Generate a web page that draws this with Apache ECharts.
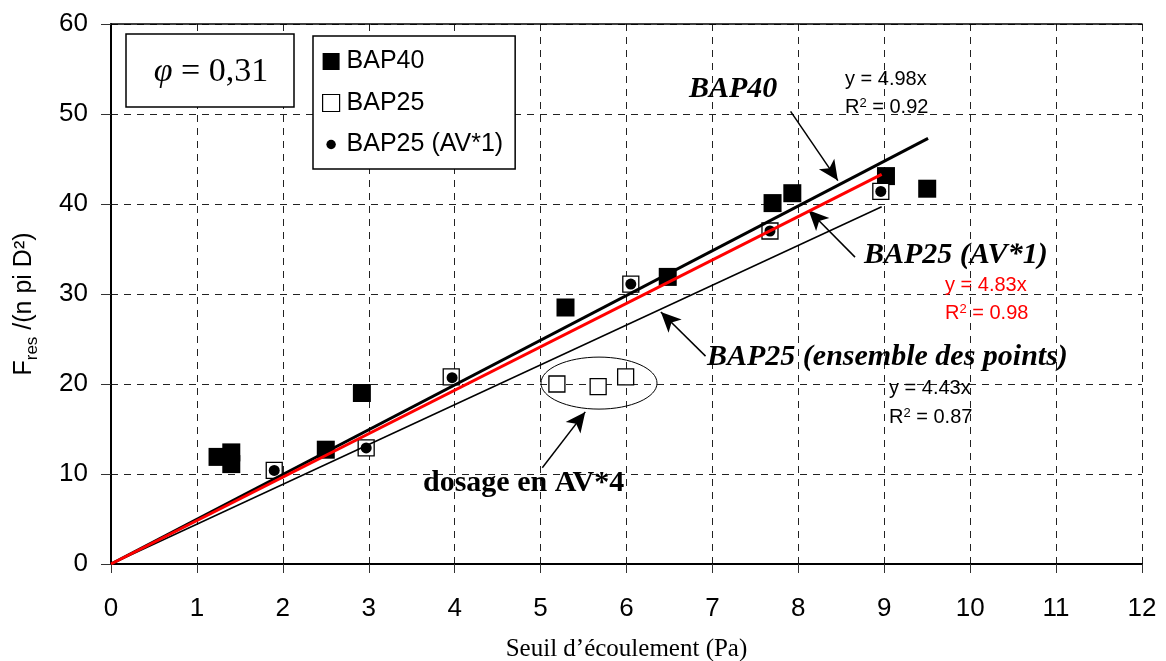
<!DOCTYPE html>
<html><head><meta charset="utf-8">
<script src="https://cdn.jsdelivr.net/npm/echarts@6/dist/echarts.min.js"></script>
<style>html,body{margin:0;padding:0;background:#fff}#c{width:1166px;height:661px}</style>
</head><body><div id="c"></div>
<script>
// ---- data ----
const bap40X = [1.24, 1.40, 1.40, 2.50, 2.92, 5.29, 6.48, 7.70, 7.93, 9.02, 9.50];
const bap40Y = [11.9, 12.4, 11.1, 12.7, 19.0, 28.5, 31.9, 40.1, 41.2, 43.1, 41.7];
const bap25X = [1.90, 2.97, 3.96, 5.19, 5.67, 5.99, 6.05, 7.67, 8.96];
const bap25Y = [10.4, 12.9, 20.8, 20.0, 19.7, 20.8, 31.1, 37.0, 41.4];
const av1X = [1.90, 2.97, 3.97, 6.05, 7.67, 8.96];
const av1Y = [10.4, 12.9, 20.7, 31.1, 37.0, 41.4];
const trendBAP40 = [[0, 0], [9.51, 47.3]];
const trendAV1 = [[0, 0], [8.97, 43.3]];
const trendAll = [[0, 0], [8.97, 39.7]];
const seriesNames = ['BAP40', 'BAP25', 'BAP25 (AV*1)'];
const xTicks = [0,1,2,3,4,5,6,7,8,9,10,11,12];
const yTicks = [0,10,20,30,40,50,60];
const arrows = [
  [[7.91, 50.3], [8.46, 42.6]],
  [[8.66, 34.1], [8.12, 39.3]],
  [[6.92, 23.1], [6.40, 28.0]],
  [[5.02, 10.7], [5.52, 16.9]]
];
const ellipseC = [5.68, 20.1];

const zip = (a, b) => a.map((v, i) => [v, b[i]]);
const circleIcon = 'image://data:image/svg+xml;charset=utf-8,' + encodeURIComponent(
  '<svg xmlns="http://www.w3.org/2000/svg" width="18" height="18"><circle cx="9" cy="9" r="5" fill="black"/></svg>');

const chart = echarts.init(document.getElementById('c'));
const sans = 'Liberation Sans, Arial, sans-serif';
const serif = 'Liberation Serif, Times New Roman, serif';
chart.setOption({
  animation: false,
  backgroundColor: '#fff',
  grid: { left: 111, right: 24, top: 24, bottom: 97, outerBoundsMode: 'none', containLabel: false },
  xAxis: [{
    type: 'value', min: 0, max: 12, interval: 1,
    axisLine: { lineStyle: { color: '#000', width: 2 } },
    axisTick: { show: true, length: 9, lineStyle: { color: '#333' } },
    axisLabel: { fontFamily: sans, fontSize: 26, color: '#000', margin: 32,
      formatter: v => xTicks.includes(v) ? String(v) : '' },
    splitLine: { show: true, lineStyle: { color: '#222', type: [7, 6], width: 1 } },
    name: 'Seuil d\u2019\u00e9coulement (Pa)', nameLocation: 'middle', nameGap: 73,
    nameTextStyle: { fontFamily: serif, fontSize: 25, color: '#000' }
  }, {
    type: 'value', min: 0, max: 12, position: 'top',
    axisLine: { show: true, lineStyle: { color: '#000', width: 1.5 } },
    axisTick: { show: false }, axisLabel: { show: false }, splitLine: { show: false }
  }],
  yAxis: {
    type: 'value', min: 0, max: 60, interval: 10,
    axisLine: { show: true, lineStyle: { color: '#000', width: 2 } },
    axisTick: { show: true, length: 10, lineStyle: { color: '#333' } },
    axisLabel: { fontFamily: sans, fontSize: 26, color: '#000', margin: 23,
      formatter: v => yTicks.includes(v) ? String(v) : '' },
    splitLine: { show: true, lineStyle: { color: '#222', type: [7, 6], width: 1 } },
    name: '{a|F}{b|res}{a| /(n pi D\u00b2)}', nameLocation: 'middle', nameGap: 74, nameRotate: 90,
    nameTextStyle: { padding: [0, 20, 0, 0], rich: {
      a: { fontFamily: sans, fontSize: 25, color: '#000' },
      b: { fontFamily: sans, fontSize: 17, color: '#000', verticalAlign: 'bottom', padding: [0, 0, -4, 0] }
    } }
  },
  legend: {
    orient: 'vertical', left: 313, top: 36, width: 238,
    padding: [13, 12, 12, 9], itemGap: 16.5, itemWidth: 17, itemHeight: 17,
    backgroundColor: '#fff', borderColor: '#000', borderWidth: 1.5,
    textStyle: { fontFamily: sans, fontSize: 25, color: '#000', padding: [0, 0, 0, 2] },
    data: [
      { name: seriesNames[0], icon: 'rect', itemStyle: { color: '#000', opacity: 1 } },
      { name: seriesNames[1], icon: 'rect', itemStyle: { color: '#fff', borderColor: '#000', borderWidth: 1.2, opacity: 1 } },
      { name: seriesNames[2], icon: circleIcon }
    ]
  },
  series: [
    { name: seriesNames[0], type: 'scatter', symbol: 'rect', symbolSize: 18, z: 2,
      itemStyle: { color: '#000', opacity: 1 }, data: zip(bap40X, bap40Y) },
    { name: seriesNames[1], type: 'scatter', symbol: 'rect', symbolSize: 16, z: 3,
      itemStyle: { color: '#fff', borderColor: '#000', borderWidth: 1.3, opacity: 1 }, data: zip(bap25X, bap25Y) },
    { name: seriesNames[2], type: 'scatter', symbol: 'circle', symbolSize: 11, z: 4,
      itemStyle: { color: '#000', opacity: 1 }, data: zip(av1X, av1Y) },
    { type: 'line', data: trendAll, symbol: 'none', z: 5, silent: true,
      lineStyle: { color: '#000', width: 1.5 } },
    { type: 'line', data: trendBAP40, symbol: 'none', z: 6, silent: true,
      lineStyle: { color: '#000', width: 3 } },
    { type: 'line', data: trendAV1, symbol: 'none', z: 7, silent: true,
      lineStyle: { color: '#ff0000', width: 3 } },
    { type: 'line', data: [], z: 8, silent: true,
      markLine: { silent: true, symbol: ['none', 'arrow'], symbolSize: [14, 20],
        label: { show: false }, lineStyle: { color: '#000', width: 1.5, type: 'solid' },
        emphasis: { disabled: true },
        data: arrows.map(a => [{ coord: a[0] }, { coord: a[1] }]) } }
  ]
});

const c = chart.convertToPixel({ gridIndex: 0 }, ellipseC);
const txt = (x, y, text, font, color, align) => ({
  type: 'text', x, y, z: 20,
  style: { text, font, fill: color || '#000', align: align || 'left', verticalAlign: 'middle' }
});
const lbl = 'italic bold 30px ' + serif;
const r2 = (x, y, val, color) => ({ type: 'text', x, y, z: 20, style: {
  text: 'R{s|2} = ' + val, font: '20px ' + sans, fill: color, verticalAlign: 'middle',
  rich: { s: { font: '13px ' + sans, fill: color, verticalAlign: 'top', padding: [0, 0, 8, 0] } } } });
chart.setOption({
  graphic: [
    { type: 'rect', shape: { x: 126, y: 34, width: 168, height: 73 }, z: 20,
      style: { fill: '#fff', stroke: '#000', lineWidth: 1.5 } },
    { type: 'text', x: 211, y: 72, z: 21,
      style: { text: '{i|\u03c6}{n| = 0,31}', align: 'center', verticalAlign: 'middle',
        rich: { i: { font: 'italic 34px ' + serif, fill: '#000' }, n: { font: '34px ' + serif, fill: '#000' } } } },
    { type: 'ellipse', shape: { cx: c[0], cy: c[1], rx: 58, ry: 26 }, z: 20,
      style: { fill: 'none', stroke: '#000', lineWidth: 1 } },
    txt(689, 89, 'BAP40', lbl),
    txt(864, 255, 'BAP25 (AV*1)', lbl),
    txt(707, 357, 'BAP25 (ensemble des points)', lbl),
    txt(423, 483, 'dosage en AV*4', 'bold 30px ' + serif),
    txt(845, 79, 'y = 4.98x', '20px ' + sans),
    r2(845, 107, '0.92', '#000'),
    txt(945, 285, 'y = 4.83x', '20px ' + sans, '#ff0000'),
    r2(945, 313, '0.98', '#ff0000'),
    txt(889, 388, 'y = 4.43x', '20px ' + sans),
    r2(889, 417, '0.87', '#000')
  ]
});
</script></body></html>
